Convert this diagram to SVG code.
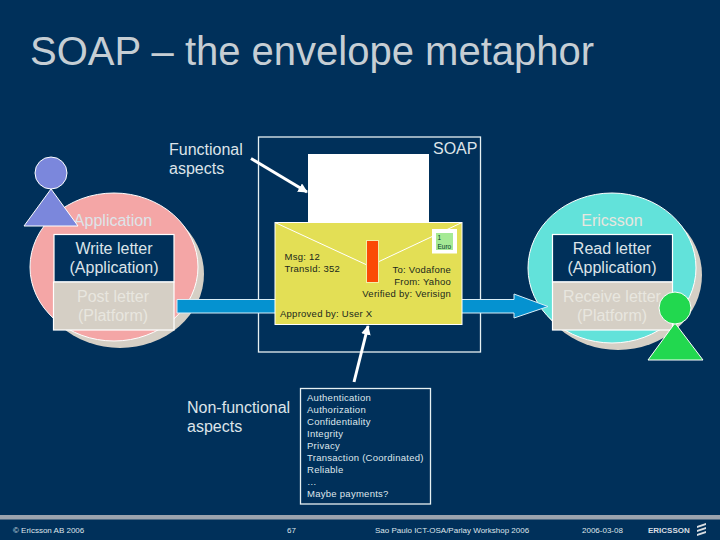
<svg xmlns="http://www.w3.org/2000/svg" width="720" height="540" viewBox="0 0 720 540">
<style>
text{font-family:"Liberation Sans",Arial,sans-serif;fill:#fff}
.l{font-size:16px;fill:#dde4e9}
.c{text-anchor:middle}
.p{fill:#e8e6df}
.s{font-size:9.5px;fill:#20281c;letter-spacing:.25px}
.n{font-size:9.5px;fill:#dfe7ec;letter-spacing:.27px}
.f{font-size:8px;fill:#dfe5ea}
.o{stroke:#fff;stroke-width:1.2}
.b{fill:none;stroke:#e6f0f2;stroke-width:1.3}
.w{stroke:#fff;stroke-width:3;fill:none}
</style>
<defs>
<marker id="ah" viewBox="0 0 10 10" refX="9" refY="5" markerWidth="3.200" markerHeight="3.200" orient="auto"><path d="M0 0L10 5L0 10z" fill="#fff"/></marker>
</defs>
<rect width="720" height="540" fill="#00305a"/>
<rect y="515" width="720" height="4.500" fill="#9ba3ae"/>
<text x="30" y="65" font-size="40" style="fill:#c6ced4" id="title">SOAP – the envelope metaphor</text>

<g id="soap-box"><rect class="b" x="258.500" y="137" width="222" height="215"/><text class="l" x="433" y="154">SOAP</text></g>

<g id="app">
<ellipse cx="120" cy="274" rx="84" ry="74" fill="#d5cfc5"/>
<ellipse cx="114" cy="267" rx="84" ry="74" fill="#f4a6a6" stroke="#fff"/>
<text class="l c" x="113" y="226">Application</text>
</g>
<g id="write-letter"><rect x="54" y="234.500" width="120" height="47.500" fill="#00305a" class="o"/><text class="l c" x="114" y="254">Write letter</text><text class="l c" x="114" y="273">(Application)</text></g>
<g id="post-letter"><rect x="53.500" y="282" width="120.500" height="48" fill="#d5cfc5" class="o"/><text class="l c p" x="113" y="302">Post letter</text><text class="l c p" x="113" y="321">(Platform)</text></g>
<g id="user-left"><path d="M51 189L78 226H24z" fill="#7b87dc" stroke="#fff"/><circle cx="51" cy="173" r="16" fill="#7b87dc" stroke="#fff"/></g>

<g id="ericsson">
<ellipse cx="618" cy="275" rx="84" ry="75" fill="#d5cfc5"/>
<ellipse cx="612" cy="268" rx="84" ry="75" fill="#62e2da" stroke="#fff"/>
<text class="l c p" x="612" y="226">Ericsson</text>
</g>
<g id="read-letter"><rect x="552.500" y="234.500" width="120" height="47.500" fill="#00305a" class="o"/><text class="l c" x="612" y="254">Read letter</text><text class="l c" x="612" y="273">(Application)</text></g>
<g id="receive-letter"><rect x="552.500" y="282" width="120" height="48" fill="#d5cfc5" class="o"/><text class="l c p" x="612" y="302">Receive letter</text><text class="l c p" x="612" y="321">(Platform)</text></g>

<g id="connectors">
<path d="M177 299.500H514V294L548 306.500L514 318V313H177z" fill="#0592d0" stroke="#d8eef8" stroke-width="1"/>
<path class="w" d="M251 158.500L307 192" marker-end="url(#ah)"/>
<path class="w" d="M354 382L368 326" marker-end="url(#ah)"/>
</g>

<g id="user-right"><path d="M675 323L703 360H648z" fill="#22d84f" stroke="#fff"/><circle cx="675" cy="308" r="16" fill="#22d84f" stroke="#fff"/></g>

<g id="letter"><rect x="308" y="154" width="121" height="69" fill="#fff"/></g>
<g id="envelope">
<rect x="275" y="222.500" width="187" height="102" fill="#e3df55" stroke="#fff"/>
<path d="M275 222.500L367 265M462 222.500L378 262" fill="none" stroke="#fff"/>
<rect x="366.500" y="240.500" width="12" height="42" fill="#fb4a05" stroke="#f3efa8"/>
<rect x="432" y="229" width="25" height="24.500" fill="#fff"/>
<rect x="436" y="233" width="17" height="17" fill="#a5ea95"/>
<text x="437.500" y="239.500" style="font-size:6.500px;fill:#06402c">1</text>
<text x="437.500" y="249" style="font-size:6.500px;fill:#06402c">Euro</text>
<text class="s" x="284.500" y="260">Msg: 12</text>
<text class="s" x="284.500" y="272" style="letter-spacing:.2px">TransId: 352</text>
<text class="s" x="451" y="273" text-anchor="end">To: Vodafone</text>
<text class="s" x="451" y="285" text-anchor="end">From: Yahoo</text>
<text class="s" x="451" y="297" text-anchor="end">Verified by: Verisign</text>
<text class="s" x="280" y="317">Approved by: User X</text>
</g>

<g id="functional"><text class="l" x="169" y="155">Functional</text><text class="l" x="169" y="174">aspects</text></g>
<g id="non-functional"><text class="l" x="187" y="413">Non-functional</text><text class="l" x="187" y="432">aspects</text></g>
<g id="aspects-list">
<rect class="b" x="300.500" y="388.500" width="130" height="115.500"/>
<text class="n" x="307" y="401">Authentication</text>
<text class="n" x="307" y="413">Authorization</text>
<text class="n" x="307" y="425">Confidentiality</text>
<text class="n" x="307" y="437">Integrity</text>
<text class="n" x="307" y="449">Privacy</text>
<text class="n" x="307" y="461">Transaction (Coordinated)</text>
<text class="n" x="307" y="473">Reliable</text>
<text class="n" x="307" y="485">…</text>
<text class="n" x="307" y="497">Maybe payments?</text>
</g>
<g id="footer">
<text class="f" x="13" y="533">© Ericsson AB 2006</text>
<text class="f" x="287" y="533">67</text>
<text class="f" x="375" y="533">Sao Paulo ICT-OSA/Parlay Workshop 2006</text>
<text class="f" x="582" y="533">2006-03-08</text>
<text x="648" y="533" style="font-size:8px;font-weight:700;fill:#d8dde2">ERICSSON</text>
<path d="M697 526L706 523V525L697 528zM697 530L706 527V529L697 532zM697 534L706 531V533L697 536z" fill="#d8dde2"/>
</g>
</svg>
